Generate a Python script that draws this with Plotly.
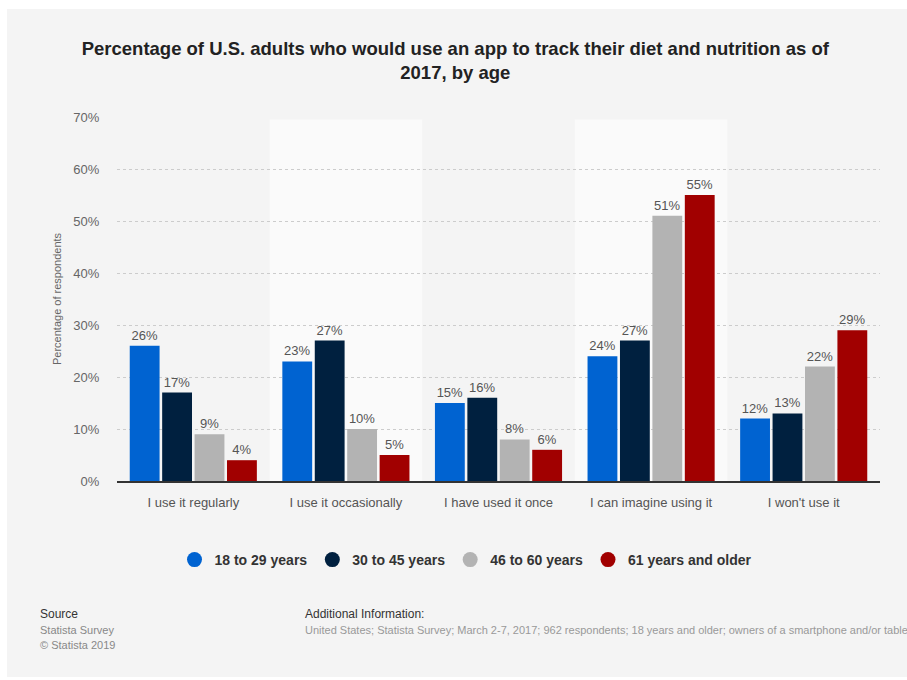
import plotly.graph_objects as go

categories = ["I use it regularly", "I use it occasionally", "I have used it once",
              "I can imagine using it", "I won't use it"]
series_names = ["18 to 29 years", "30 to 45 years", "46 to 60 years", "61 years and older"]
v_18_29 = [26, 23, 15, 24, 12]
v_30_45 = [17, 27, 16, 27, 13]
v_46_60 = [9, 10, 8, 51, 22]
v_61_up = [4, 5, 6, 55, 29]
colors = ["#0063d1", "#00203f", "#b3b3b3", "#a10000"]
y_ticks = [0, 10, 20, 30, 40, 50, 60, 70]
y_tick_labels = ["0%", "10%", "20%", "30%", "40%", "50%", "60%", "70%"]

W, H = 907, 680
L, R, T, B = 117, 27, 117, 199
PW, PH = W - L - R, H - T - B


def px(x):
    return (x - L) / PW


def py(y):
    return (H - B - y) / PH


fig = go.Figure()
for name, vals, col in zip(series_names, [v_18_29, v_30_45, v_46_60, v_61_up], colors):
    fig.add_trace(go.Bar(
        x=categories, y=vals, name=name, marker_color=col, marker_line_width=0,
        text=[f"{v}%" for v in vals], textposition="outside",
        textfont=dict(size=13, color="#555555", family="Liberation Sans"),
        cliponaxis=False, showlegend=False, hoverinfo="skip"))
for name, col in zip(series_names, colors):
    fig.add_trace(go.Scatter(
        x=[None], y=[None], mode="markers", name=name,
        marker=dict(symbol="circle", size=15, color=col)))

shapes = []
# outer gray panel
shapes.append(dict(type="rect", xref="paper", yref="paper", x0=px(7), x1=px(910),
                   y0=py(677), y1=py(9), fillcolor="#f4f4f4", line_width=0, layer="below"))
# alternating lighter bands
for i in (1, 3):
    shapes.append(dict(type="rect", xref="x", yref="y", x0=i - 0.5, x1=i + 0.5,
                       y0=0, y1=69.5, fillcolor="#fafafa", line_width=0, layer="below"))

annotations = [
    dict(text="Percentage of respondents", xref="paper", yref="paper", x=px(57), y=0.5,
         xanchor="center", yanchor="middle",
         textangle=-90, showarrow=False, font=dict(size=11, color="#666666", family="Liberation Sans")),
    dict(text="Source", xref="paper", yref="paper", x=px(38), y=py(614), xanchor="left",
         yanchor="middle", showarrow=False, font=dict(size=12, color="#333333", family="Liberation Sans")),
    dict(text="Statista Survey", xref="paper", yref="paper", x=px(38), y=py(630), xanchor="left",
         yanchor="middle", showarrow=False, font=dict(size=11, color="#888888", family="Liberation Sans")),
    dict(text="© Statista 2019", xref="paper", yref="paper", x=px(38), y=py(645), xanchor="left",
         yanchor="middle", showarrow=False, font=dict(size=11, color="#888888", family="Liberation Sans")),
    dict(text="Additional Information:", xref="paper", yref="paper", x=px(303), y=py(614),
         xanchor="left", yanchor="middle", showarrow=False,
         font=dict(size=12, color="#333333", family="Liberation Sans")),
    dict(text="United States; Statista Survey; March 2-7, 2017; 962 respondents; 18 years and older; "
              "owners of a smartphone and/or tablet",
         xref="paper", yref="paper", x=px(303), y=py(630), xanchor="left", yanchor="middle",
         showarrow=False, font=dict(size=11, color="#999999", family="Liberation Sans")),
]

fig.update_layout(
    width=W, height=H, margin=dict(l=L, r=R, t=T, b=B),
    paper_bgcolor="#ffffff", plot_bgcolor="rgba(0,0,0,0)",
    barmode="group", bargap=0.15, bargroupgap=0.08,
    title=dict(text="Percentage of U.S. adults who would use an app to track their diet and nutrition as of<br>2017, by age",
               x=0.502, xref="container", xanchor="center", y=1 - 55 / H, yref="container", yanchor="middle",
               font=dict(size=18.5, color="#222222", family="Liberation Sans", weight="bold")),
    xaxis=dict(showline=True, linecolor="#333333", linewidth=2, showgrid=False,
               tickfont=dict(size=13, color="#555555", family="Liberation Sans"),
               ticks="outside", ticklen=8, tickcolor="rgba(0,0,0,0)", fixedrange=True),
    yaxis=dict(range=[0, 70], tickmode="array", tickvals=y_ticks, ticktext=y_tick_labels,
               showgrid=True, gridcolor="#cccccc", griddash="dot", gridwidth=1, zeroline=False,
               tickfont=dict(size=13, color="#666666", family="Liberation Sans"),
               ticks="outside", ticklen=14, tickcolor="rgba(0,0,0,0)", fixedrange=True),
    legend=dict(orientation="h", x=px(466), xanchor="center", y=py(560), yanchor="middle",
                font=dict(size=14, color="#333333", family="Liberation Sans", weight="bold"),
                bgcolor="rgba(0,0,0,0)", itemwidth=30),
    shapes=shapes, annotations=annotations,
)

fig.write_html("out.html", config={"displayModeBar": False})
